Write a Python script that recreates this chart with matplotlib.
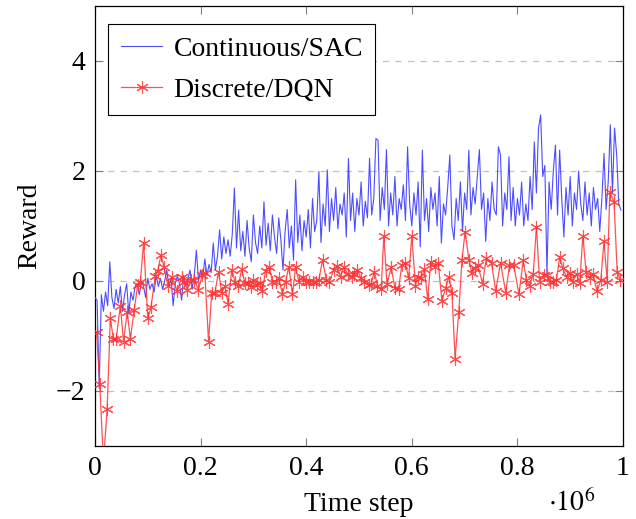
import numpy as np
import matplotlib
matplotlib.use("Agg")
import matplotlib.pyplot as plt

plt.rcParams['font.family'] = ['Liberation Serif', 'DejaVu Serif']
plt.rcParams['mathtext.fontset'] = 'stix'

# Continuous/SAC: reward every 4000 time steps
sac_reward = [
    -0.3, -0.35, -1.95, -0.25, -0.55, -0.2, -0.45, 0.35, -0.3, -0.5,
    -0.15, -0.4, -0.1, -0.55, -0.25, -0.05, -0.6, -0.2, -0.35, -0.1,
    -0.05, -0.25, 0.0, -0.1, -0.3, 0.05, -0.15, -0.05, -0.2, 0.1,
    -0.1, 0.05, -0.15, 0.0, 0.2, -0.1, 0.05, -0.45, -0.05, 0.1,
    -0.05, -0.35, 0.1, -0.1, 0.05, 0.2, -0.15, 0.1, 0.56, 0.0,
    0.2, 0.05, 0.4, 0.1, 0.3, 0.15, 0.69, 0.2, 0.45, 0.93,
    0.4, 0.8, 0.5, 0.75, 0.45, 0.85, 1.69, 0.6, 1.29, 0.55,
    0.9, 0.45, 1.1, 0.6, 0.35, 1.2, 0.7, 0.5, 1.0, 0.6,
    1.44, 0.65, 1.05, 0.55, 1.2, 0.8, 0.5, 1.15, 0.75, 0.2,
    0.9, 1.3, 0.6, 1.0, 0.38, 1.84, 0.7, 1.2, 0.55, 1.1,
    0.8, 1.3, 0.6, 1.5, 0.9, 1.1, 1.99, 0.7, 1.4, 1.0,
    2.02, 0.9, 1.5, 1.1, 1.7, 0.95, 1.4, 1.2, 1.6, 0.8,
    2.23, 1.1, 1.6, 0.9, 1.5, 1.2, 1.8, 1.0, 1.45, 1.15,
    2.23, 1.2, 1.5, 2.59, 2.56, 1.1, 1.7, 1.3, 2.39, 1.0,
    1.6, 1.2, 1.9, 1.0, 1.5, 1.3, 1.75, 1.1, 2.44, 1.4,
    1.0, 1.6, 1.2, 1.8, 0.62, 2.38, 1.1, 1.5, 0.9, 1.7,
    1.3, 1.6, 1.0, 1.9, 0.69, 1.4, 1.2, 1.7, 2.29, 1.0,
    0.75, 1.5, 1.1, 1.8, 0.9, 1.6, 1.3, 2.38, 1.2, 1.7,
    1.4, 1.9, 2.39, 1.3, 1.6, 0.72, 1.5, 1.1, 1.8, 1.3,
    1.2, 2.44, 2.29, 1.0, 1.6, 1.3, 2.26, 1.1, 1.7, 1.0,
    1.5, 1.2, 1.8, 1.0, 1.4, 1.1, 1.9, 1.3, 2.53, 1.6,
    2.78, 3.02, 1.9, 2.1, 0.14, 1.8, 1.3, 2.0, 2.47, 1.2,
    2.38, 1.5, 0.8, 1.7, 1.2, 1.9, 1.0, 1.6, 1.3, 2.0,
    1.4, 1.1, 1.8, 1.2, 1.6, 1.0, 1.7, 1.3, 1.5, 0.9,
    1.5, 2.32, 1.3, 1.8, 2.84, 1.6, 2.78, 2.3, 1.4, 1.29,
]
sac_step = np.arange(len(sac_reward)) * 4000

# Discrete/DQN: (time step in units of 1e6, reward)
dqn_step = [
    0.003, 0.009, 0.016, 0.023, 0.029, 0.035, 0.040, 0.048, 0.054, 0.061,
    0.067, 0.074, 0.081, 0.086, 0.092, 0.100, 0.106, 0.114, 0.119, 0.125,
    0.131, 0.138, 0.146, 0.156, 0.164, 0.169, 0.175, 0.181, 0.188, 0.196,
    0.203, 0.208, 0.215, 0.221, 0.227, 0.234, 0.240, 0.246, 0.252, 0.259,
    0.265, 0.271, 0.278, 0.284, 0.289, 0.295, 0.300, 0.306, 0.313, 0.317,
    0.323, 0.330, 0.336, 0.342, 0.348, 0.355, 0.361, 0.367, 0.374, 0.380,
    0.386, 0.393, 0.399, 0.405, 0.412, 0.418, 0.424, 0.431, 0.438, 0.444,
    0.452, 0.458, 0.465, 0.471, 0.479, 0.486, 0.491, 0.497, 0.504, 0.510,
    0.518, 0.523, 0.529, 0.535, 0.542, 0.547, 0.553, 0.561, 0.568, 0.575,
    0.581, 0.588, 0.594, 0.600, 0.607, 0.611, 0.617, 0.624, 0.630, 0.636,
    0.643, 0.650, 0.657, 0.664, 0.670, 0.676, 0.682, 0.689, 0.695, 0.701,
    0.708, 0.714, 0.719, 0.725, 0.734, 0.741, 0.751, 0.759, 0.768, 0.778,
    0.785, 0.793, 0.803, 0.811, 0.817, 0.823, 0.830, 0.836, 0.842, 0.850,
    0.856, 0.861, 0.867, 0.874, 0.880, 0.886, 0.893, 0.899, 0.905, 0.912,
    0.918, 0.924, 0.930, 0.937, 0.943, 0.951, 0.958, 0.964, 0.970, 0.975,
    0.983, 0.989, 0.995,
]
dqn_reward = [
    -0.93, -1.88, -3.3, -2.33, -0.68, -1.06, -1.06, -0.45, -1.10, -0.56,
    -1.06, -0.53, -0.07, -0.01, 0.70, -0.68, -0.48, 0.09, 0.19, 0.47,
    0.25, -0.09, 0.07, -0.19, 0.08, -0.01, -0.16, 0.02, 0.02, -0.16,
    0.11, 0.14, -1.10, -0.22, -0.22, 0.17, -0.22, -0.09, -0.41, 0.20,
    -0.01, -0.09, 0.21, -0.04, -0.04, -0.10, 0.02, -0.07, -0.04, -0.19,
    0.19, 0.25, -0.01, -0.01, 0.05, -0.24, -0.01, 0.26, -0.24, 0.26,
    -0.01, 0.08, -0.01, -0.02, -0.01, -0.01, 0.02, 0.39, 0.02, -0.01,
    0.20, 0.27, 0.08, 0.25, 0.13, 0.08, 0.13, 0.20, 0.05, -0.01,
    -0.07, -0.05, 0.17, -0.09, -0.15, 0.82, -0.05, 0.25, -0.13, -0.15,
    0.29, 0.32, 0.05, 0.81, -0.09, 0.08, 0.05, 0.21, -0.33, 0.35,
    0.26, 0.33, -0.36, -0.13, 0.08, -0.21, -1.41, -0.56, 0.38, 0.90,
    0.39, 0.14, 0.23, 0.29, -0.05, 0.41, 0.32, -0.18, 0.33, -0.21,
    0.29, 0.29, -0.24, 0.38, 0.02, -0.09, 0.13, 0.98, -0.01, 0.11,
    0.11, -0.01, -0.01, 0.02, 0.44, 0.23, 0.08, 0.15, -0.01, 0.13,
    -0.03, 0.82, 0.17, 0.05, 0.13, -0.19, 0.02, 0.72, -0.01, 1.61,
    1.44, 0.17, 0.02,
]
dqn_step = np.array(dqn_step) * 1e6

fig = plt.figure(figsize=(6.36, 5.19), dpi=100)
ax = fig.add_axes([95/636, 1 - 446/519, (623 - 95)/636, (446 - 6)/519])

ax.plot(sac_step, sac_reward, color=(0.3, 0.3, 1.0), lw=0.8, label='Continuous/SAC', zorder=3)
ax.plot(dqn_step, dqn_reward, color=(1.0, 0.2, 0.2), lw=0.9, alpha=0.85,
        marker=(6, 2, 0), markersize=9, markeredgewidth=0.8, label='Discrete/DQN', zorder=4)

ax.set_xlim(0, 1e6)
ax.set_ylim(-3, 5)
ax.set_xticks([0, 2e5, 4e5, 6e5, 8e5, 1e6])
ax.set_xticklabels(['0', '0.2', '0.4', '0.6', '0.8', '1'])
ax.set_yticks([-2, 0, 2, 4])
ax.set_yticklabels(['\u22122', '0', '2', '4'])
ax.yaxis.grid(True, linestyle=(0, (5, 5)), color='#c0c0c0', lw=0.9)
ax.set_axisbelow(True)
ax.tick_params(direction='in', top=True, right=True, length=6, width=0.8,
               color='#808080', labelsize=20, pad=7)
for s in ax.spines.values():
    s.set_linewidth(0.9)

ax.set_xlabel('Time step', fontsize=20, labelpad=8)
ax.set_ylabel('Reward', fontsize=20, labelpad=10)
fig.text(548/636, 1 - 503/519, r'$\cdot 10^6$', fontsize=20, ha='left', va='center')

leg = ax.legend(loc='upper left', bbox_to_anchor=(0.025, 0.959), borderaxespad=0,
                fontsize=20, frameon=True, fancybox=False, edgecolor='black', framealpha=1,
                handlelength=1.5, borderpad=0.45, labelspacing=0.55, handletextpad=0.4)
leg.get_frame().set_linewidth(0.8)

fig.savefig('out.png', dpi=100)
